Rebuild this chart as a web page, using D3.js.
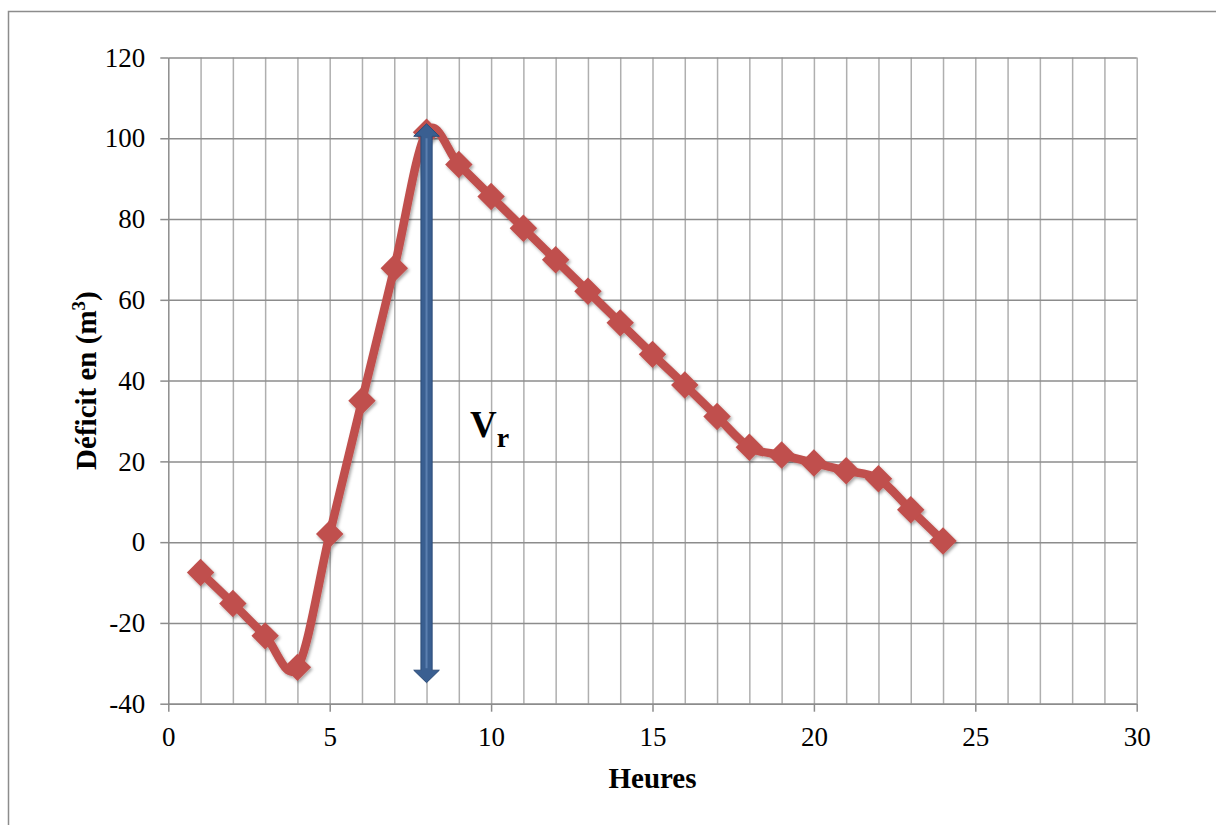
<!DOCTYPE html>
<html>
<head>
<meta charset="utf-8">
<script src="https://cdn.jsdelivr.net/npm/d3@7"></script>
<style>
  body { margin: 0; background: #fff; }
  svg { display: block; font-family: "Liberation Serif", "Times New Roman", serif; }
</style>
</head>
<body>
<div id="chart"></div>
<script>
// data
var heures = [1, 2, 3, 4, 5, 6, 7, 8, 9, 10, 11, 12, 13, 14, 15, 16, 17, 18, 19, 20, 21, 22, 23, 24];
var deficit = [-7.5, -15.2, -23.2, -31, 2, 35, 67.8, 101.5, 93.5, 85.6, 77.7, 69.9, 62.1, 54.3, 46.5, 38.9, 31.1, 23.5, 21.6, 19.6, 17.7, 15.7, 8, 0.3];
var xTicks = [0, 5, 10, 15, 20, 25, 30];
var yTicks = [-40, -20, 0, 20, 40, 60, 80, 100, 120];
// annotation arrow (Vr) at hour 8
var arrowHour = 8;
var arrowTop = 103.6;
var arrowBottom = -34.8;

var widthSVG = 1216, heightSVG = 825;
var plotLeft = 168.3, plotRight = 1136.7, plotTop = 57.5, plotBottom = 703.7;

var svg = d3.select("#chart")
  .append("svg")
  .attr("width", widthSVG)
  .attr("height", heightSVG);

var defs = svg.append("defs");
var shadow = defs.append("filter")
  .attr("id", "shadow")
  .attr("x", "-50%").attr("y", "-50%")
  .attr("width", "200%").attr("height", "200%");
shadow.append("feDropShadow")
  .attr("dx", 1.5).attr("dy", 2)
  .attr("stdDeviation", 1.8)
  .attr("flood-color", "#000")
  .attr("flood-opacity", 0.35);

// outer frame (runs off the right and bottom edge)
svg.append("rect")
  .attr("x", 8.5).attr("y", 11.5)
  .attr("width", 1230).attr("height", 840)
  .attr("fill", "none")
  .attr("stroke", "#8c8c8c")
  .attr("stroke-width", 1.5);

var x = d3.scaleLinear().domain([0, 30]).range([plotLeft, plotRight]);
var y = d3.scaleLinear().domain([-40, 120]).range([plotBottom, plotTop]);

// vertical grid, one per hour
var vGrid = svg.append("g")
  .attr("transform", "translate(0," + plotBottom + ")")
  .call(d3.axisBottom(x)
    .tickValues(d3.range(1, 31))
    .tickSize(-(plotBottom - plotTop))
    .tickFormat(""));
vGrid.select(".domain").remove();
vGrid.selectAll("line").attr("stroke", "#afafaf").attr("stroke-width", 1.5);

// horizontal grid
var hGrid = svg.append("g")
  .attr("transform", "translate(" + plotLeft + ",0)")
  .call(d3.axisLeft(y)
    .tickValues(yTicks)
    .tickSize(-(plotRight - plotLeft))
    .tickFormat(""));
hGrid.select(".domain").remove();
hGrid.selectAll("line").attr("stroke", "#8c8c8c").attr("stroke-width", 1.5);

// Y axis (plain hyphen for negatives, as in the original)
var yAxis = svg.append("g")
  .attr("transform", "translate(" + plotLeft + ",0)")
  .call(d3.axisLeft(y)
    .tickValues(yTicks)
    .tickSize(8)
    .tickSizeOuter(0)
    .tickPadding(15)
    .tickFormat(function(d) { return String(d); }));
yAxis.select(".domain").attr("stroke", "#8c8c8c").attr("stroke-width", 1.5);
yAxis.selectAll("line").attr("stroke", "#8c8c8c").attr("stroke-width", 1.5);
yAxis.selectAll("text")
  .attr("font-family", "Liberation Serif, Times New Roman, serif")
  .attr("font-size", "27px")
  .attr("fill", "#000");

// X axis
var xAxis = svg.append("g")
  .attr("transform", "translate(0," + plotBottom + ")")
  .call(d3.axisBottom(x)
    .tickValues(xTicks)
    .tickSize(8)
    .tickSizeOuter(0)
    .tickPadding(15));
xAxis.select(".domain").attr("stroke", "#8c8c8c").attr("stroke-width", 1.5);
xAxis.selectAll("line").attr("stroke", "#8c8c8c").attr("stroke-width", 1.5);
xAxis.selectAll("text")
  .attr("font-family", "Liberation Serif, Times New Roman, serif")
  .attr("font-size", "27px")
  .attr("fill", "#000");

// axis titles
svg.append("text")
  .attr("x", (plotLeft + plotRight) / 2)
  .attr("y", 788)
  .attr("text-anchor", "middle")
  .attr("font-size", "29px")
  .attr("font-weight", "bold")
  .text("Heures");

var yTitle = svg.append("text")
  .attr("transform", "translate(96," + ((plotTop + plotBottom) / 2) + ") rotate(-90)")
  .attr("text-anchor", "middle")
  .attr("font-size", "29px")
  .attr("font-weight", "bold");
yTitle.append("tspan").text("Déficit en (m");
yTitle.append("tspan").attr("dy", -11).attr("font-size", "19px").text("3");
yTitle.append("tspan").attr("dy", 11).text(")");

// series
var points = heures.map(function(h, i) { return [h, deficit[i]]; });

var line = d3.line()
  .x(function(d) { return x(d[0]); })
  .y(function(d) { return y(d[1]); })
  .curve(d3.curveCardinal.tension(0));

var series = svg.append("g").attr("filter", "url(#shadow)");

series.append("path")
  .datum(points)
  .attr("d", line)
  .attr("fill", "none")
  .attr("stroke", "#c0504d")
  .attr("stroke-width", 8.5)
  .attr("stroke-linejoin", "round");

series.selectAll(".marker")
  .data(points)
  .enter()
  .append("path")
  .attr("class", "marker")
  .attr("d", d3.symbol().type(d3.symbolDiamond2).size(480))
  .attr("transform", function(d) { return "translate(" + x(d[0]) + "," + y(d[1]) + ")"; })
  .attr("fill", "#c0504d");

// double headed arrow Vr
var ax = x(arrowHour), at = y(arrowTop), ab = y(arrowBottom);
var shaft = 5.6, head = 12.8, headLen = 12.5;
var arrowPts = [
  [ax, at],
  [ax + head, at + headLen],
  [ax + shaft, at + headLen],
  [ax + shaft, ab - headLen],
  [ax + head, ab - headLen],
  [ax, ab],
  [ax - head, ab - headLen],
  [ax - shaft, ab - headLen],
  [ax - shaft, at + headLen],
  [ax - head, at + headLen]
];
svg.append("path")
  .attr("d", "M" + arrowPts.join("L") + "Z")
  .attr("fill", "#3a5f91")
  .attr("stroke", "#2c4c78")
  .attr("stroke-width", 1);
svg.append("line")
  .attr("x1", ax).attr("x2", ax)
  .attr("y1", at + headLen + 2).attr("y2", ab - headLen - 2)
  .attr("stroke", "#5b7fb0")
  .attr("stroke-width", 2);

// Vr label
var vr = svg.append("text")
  .attr("x", 470)
  .attr("y", 437)
  .attr("font-weight", "bold")
  .attr("font-size", "37px");
vr.append("tspan").text("V");
vr.append("tspan").attr("dy", 10).attr("font-size", "28px").text("r");
</script>
</body>
</html>
